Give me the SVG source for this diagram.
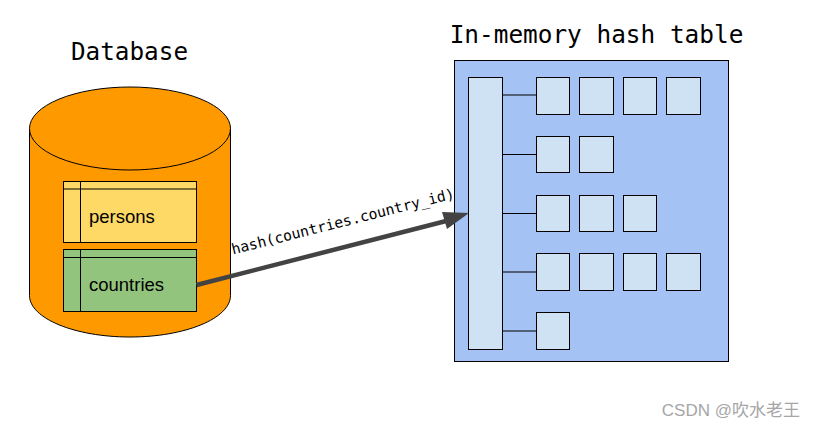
<svg xmlns="http://www.w3.org/2000/svg" width="815" height="428" viewBox="0 0 815 428">
<style>
.s{stroke:#000;stroke-width:1}
.c{fill:#cfe2f3}
.m{font-family:"DejaVu Sans Mono","Liberation Mono",monospace;fill:#000}
.a{font-family:"Liberation Sans",Arial,sans-serif;font-size:18.500px;fill:#000}
</style>
<rect width="815" height="428" fill="#fff"/>
<g id="database">
<path class="s" fill="#ff9900" d="M29.500 128.500V295.500C29.500 318.500 75 337 130 337S230.500 318.500 230.500 295.500V128.500Z"/>
<ellipse class="s" cx="130" cy="128.500" rx="100.500" ry="41.500" fill="#ff9900"/>
<text class="m" x="129.500" y="60" font-size="24.300" text-anchor="middle">Database</text>
</g>
<g id="persons">
<rect class="s" x="63.500" y="181.500" width="133" height="61" fill="#ffd966"/>
<path class="s" fill="none" d="M63.500 189H196.500M80.500 181.500V242.500"/>
<text class="a" x="89" y="223">persons</text>
</g>
<g id="countries">
<rect class="s" x="63.500" y="249.500" width="133" height="62" fill="#93c47d"/>
<path class="s" fill="none" d="M63.500 257.500H196.500M80.500 249.500V311.500"/>
<text class="a" x="89" y="291">countries</text>
</g>
<g id="hash-table">
<rect class="s" x="454.500" y="60.500" width="274" height="301" fill="#a4c2f4"/>
<text class="m" x="596.500" y="43" font-size="24.400" text-anchor="middle">In-memory hash table</text>
</g>
<g id="connectors">
<path class="s" fill="none" d="M502 95H536M502 154.500H536M502 213.500H536M502 272H536M502 331H536"/>
<path fill="none" stroke="#434343" stroke-width="4.500" d="M196.500 285L450 220"/>
<path fill="#434343" d="M469 213L447 229L442 212Z"/>
</g>
<g id="buckets">
<rect class="s c" x="468.500" y="77.500" width="34" height="272"/>
</g>
<g id="row-1">
<rect class="s c" x="536.500" y="77.500" width="33" height="37"/>
<rect class="s c" x="579.500" y="77.500" width="34" height="37"/>
<rect class="s c" x="623.500" y="77.500" width="33" height="37"/>
<rect class="s c" x="666.500" y="77.500" width="34" height="37"/>
</g>
<g id="row-2">
<rect class="s c" x="536.500" y="136.500" width="33" height="36"/>
<rect class="s c" x="579.500" y="136.500" width="34" height="36"/>
</g>
<g id="row-3">
<rect class="s c" x="536.500" y="195.500" width="33" height="36"/>
<rect class="s c" x="579.500" y="195.500" width="34" height="36"/>
<rect class="s c" x="623.500" y="195.500" width="33" height="36"/>
</g>
<g id="row-4">
<rect class="s c" x="536.500" y="253.500" width="33" height="37"/>
<rect class="s c" x="579.500" y="253.500" width="34" height="37"/>
<rect class="s c" x="623.500" y="253.500" width="33" height="37"/>
<rect class="s c" x="666.500" y="253.500" width="34" height="37"/>
</g>
<g id="row-5">
<rect class="s c" x="536.500" y="312.500" width="33" height="37"/>
</g>
<g id="label">
<text class="m" font-size="14.650" transform="translate(233 254.500) rotate(-14.200)">hash(countries.country_id)</text>
</g>
<g id="watermark">
<text x="800" y="415.500" text-anchor="end" font-size="17" fill="#a6a6a6" font-family="'Liberation Sans','Noto Sans CJK SC',sans-serif">CSDN @吹水老王</text>
</g>
</svg>
